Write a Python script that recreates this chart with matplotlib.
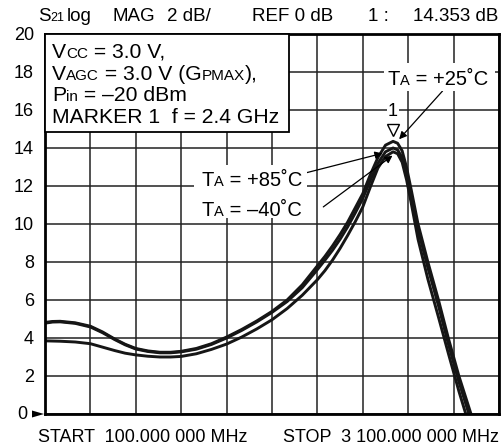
import matplotlib
matplotlib.use('Agg')
import matplotlib.pyplot as plt
from matplotlib.patches import Rectangle, Polygon
from matplotlib.transforms import ScaledTranslation

plt.rcParams['font.family'] = ['Liberation Sans', 'DejaVu Sans']

# sweep, MHz
freq = [100, 150, 200, 300, 400, 480, 560, 630, 700, 780, 860, 930, 1000,
        1100, 1200, 1300, 1400, 1500, 1600, 1700, 1800, 1900, 1950, 2000,
        2050, 2100, 2150, 2200, 2250, 2300, 2350, 2400, 2430, 2460, 2490,
        2520, 2565, 2630, 2700, 2765, 2835, 2915, 2960]
# S21 gain, dB
gain_25 = [4.82, 4.87, 4.88, 4.80, 4.62, 4.32, 3.95, 3.67, 3.45, 3.32, 3.25, 3.25, 3.30,
           3.45, 3.70, 4.05, 4.45, 4.90, 5.40, 6.00, 6.80, 7.80, 8.30, 8.85,
           9.45, 10.10, 10.85, 11.60, 12.60, 13.50, 14.15, 14.35, 14.25, 13.85, 12.95,
           11.80, 10.00, 8.00, 6.00, 4.00, 2.00, 0.00, -1.00]
gain_m40 = [4.78, 4.84, 4.85, 4.77, 4.58, 4.28, 3.92, 3.64, 3.42, 3.29, 3.22, 3.22, 3.27,
            3.41, 3.66, 4.00, 4.40, 4.85, 5.35, 5.92, 6.65, 7.60, 8.10, 8.62,
            9.20, 9.85, 10.58, 11.35, 12.30, 13.20, 13.80, 14.00, 13.90, 13.50, 12.62,
            11.48, 9.70, 7.70, 5.70, 3.70, 1.70, -0.35, -1.40]
gain_85 = [3.85, 3.84, 3.83, 3.79, 3.70, 3.52, 3.34, 3.20, 3.11, 3.04, 3.00, 3.00, 3.03,
           3.17, 3.40, 3.68, 4.05, 4.48, 4.96, 5.55, 6.25, 7.07, 7.55, 8.10,
           8.72, 9.40, 10.12, 10.90, 11.95, 12.95, 13.55, 13.80, 13.70, 13.25, 12.30,
           11.10, 9.20, 7.10, 5.10, 3.20, 1.20, -0.90, -2.00]

yticks = [2, 4, 6, 8, 10, 12, 14, 16, 18, 20]
marker_f = 2400
marker_db = 14.353

W, H = 502, 447
fig = plt.figure(figsize=(W / 100, H / 100), dpi=100)
ax = fig.add_axes([45 / W, 1 - 414 / H, 454 / W, 380 / H])
renderer = fig.canvas.get_renderer()

ax.set_xlim(100, 3100)
ax.set_ylim(0, 20)
ax.set_xticks(range(100, 3101, 300))
ax.set_yticks([0] + yticks)
ax.set_xticklabels([])
ax.set_yticklabels([''] + [str(v) for v in yticks], fontsize=13)
ax.tick_params(length=0, pad=8)
ax.grid(True, color='#222222', lw=1.1)
for s in ax.spines.values():
    s.set_linewidth(2.0)
    s.set_zorder(5)

for g in (gain_25, gain_m40, gain_85):
    ax.plot(freq, g, color='#161616', lw=2.1, zorder=3, solid_joinstyle='round')

# marker 1
ax.plot([marker_f], [marker_db], marker='v', ms=9, mfc='white', mec='black',
        mew=1.0, ls='none', zorder=4,
        transform=ax.transData + ScaledTranslation(0, 8 / 72, fig.dpi_scale_trans))
ax.annotate('1', (marker_f, marker_db), xytext=(0, 18), textcoords='offset points',
            ha='center', va='baseline', fontsize=13,
            bbox=dict(fc='white', ec='none', pad=0.5))


def rich(x, y, parts, z=6):
    # parts: (text, size); x, y in pixels from the top left, y on the baseline
    for s, size in parts:
        t = fig.text(x / W, 1 - y / H, s, fontsize=size, va='baseline',
                     ha='left', zorder=z)
        x = t.get_window_extent(renderer).x1
    return x


def box(x0, y0, x1, y1, ec='none', lw=0):
    fig.patches.append(Rectangle((x0 / W, 1 - y1 / H), (x1 - x0) / W, (y1 - y0) / H,
                                 transform=fig.transFigure, fc='white', ec=ec,
                                 lw=lw, zorder=2))


# header
rich(38, 21, [('S', 13.5), ('21', 9)])
fig.text(67 / W, 1 - 21 / H, 'log', fontsize=13.5, va='baseline')
fig.text(113 / W, 1 - 21 / H, 'MAG', fontsize=13.5, va='baseline')
fig.text(167 / W, 1 - 21 / H, '2 dB/', fontsize=13.5, va='baseline')
fig.text(252 / W, 1 - 21 / H, 'REF 0 dB', fontsize=13.5, va='baseline')
fig.text(368 / W, 1 - 21 / H, '1 :', fontsize=13.5, va='baseline')
fig.text(498 / W, 1 - 21 / H, '14.353 dB', fontsize=13.5, va='baseline', ha='right')

# bottom
fig.text(38 / W, 1 - 442 / H, 'START  100.000 000 MHz', fontsize=13, va='baseline')
fig.text(499 / W, 1 - 442 / H, 'STOP  3 100.000 000 MHz', fontsize=13, va='baseline', ha='right')

# zero label and reference arrow
fig.text(27 / W, 1 - 419 / H, '0', fontsize=13, va='baseline', ha='right')
fig.patches.append(Polygon([(32 / W, 1 - 410.5 / H), (32 / W, 1 - 417.5 / H), (44 / W, 1 - 414 / H)],
                           closed=True, transform=fig.transFigure, fc='black', ec='none', zorder=6))

# conditions box
big, small = 15.2, 11
box(45, 34, 289, 132, ec='black', lw=1.3)
rich(52, 58, [('V', big), ('CC', small), (' = 3.0 V,', big)])
rich(52, 80, [('V', big), ('AGC', small), (' = 3.0 V (G', big), ('PMAX', small), ('),', big)])
rich(52, 101, [('P', big), ('in', small), (' = \u201320 dBm', big)])
rich(52, 123, [('MARKER 1  f = 2.4 GHz', big)])

# temperature labels
box(384, 63, 495, 91)
rich(388, 85, [('T', 14.5), ('A', 10.5), (' = +25\u02daC', 14.5)])
box(194, 165, 307, 218)
rich(202, 186, [('T', 14.5), ('A', 10.5), (' = +85\u02daC', 14.5)])
rich(202, 216, [('T', 14.5), ('A', 10.5), (' = \u201340\u02daC', 14.5)])

arrow = dict(arrowstyle='-|>', color='black', lw=0.9, mutation_scale=11, shrinkA=0, shrinkB=0)
ax.annotate('', xy=(2440, 14.46), xytext=(2727, 17.0), arrowprops=arrow, zorder=6)
ax.annotate('', xy=(2330, 13.72), xytext=(1828, 12.7), arrowprops=arrow, zorder=6)
ax.annotate('', xy=(2396, 13.6), xytext=(1939, 10.9), arrowprops=arrow, zorder=6)

fig.savefig('out.png', dpi=100)
